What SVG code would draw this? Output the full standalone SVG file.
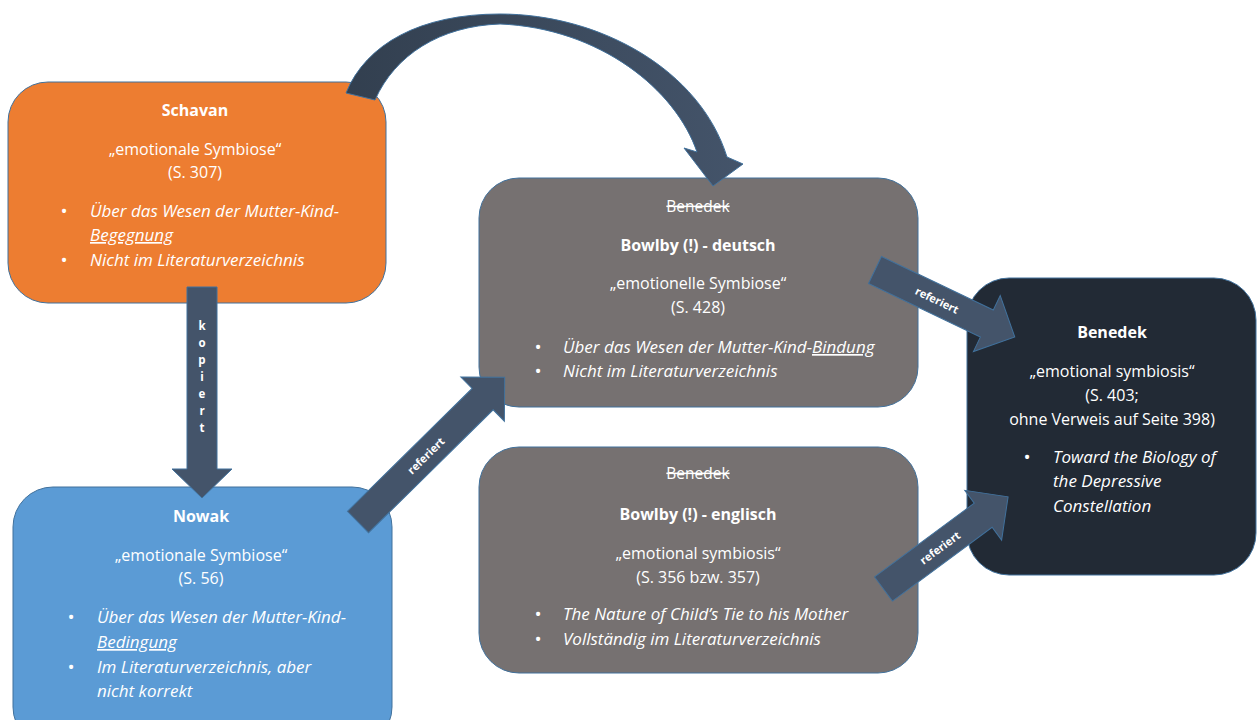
<svg xmlns="http://www.w3.org/2000/svg" width="1257" height="720" viewBox="0 0 1257 720">
<defs>
<linearGradient id="curveGrad" x1="340" y1="0" x2="745" y2="0" gradientUnits="userSpaceOnUse">
<stop offset="0" stop-color="#323F4F"/>
<stop offset="1" stop-color="#44546A"/>
</linearGradient>
</defs>
<style>
.box{stroke:#41719C;stroke-width:1}
.orange{fill:#ED7D31}
.blue{fill:#5B9BD5}
.grey{fill:#767171}
.dark{fill:#222A35}
.arrow{fill:#44546A;stroke:#41719C;stroke-width:1}
text{font-family:"Open Sans","Noto Sans","Liberation Sans",sans-serif;fill:#FFFFFF;font-size:16px}
.c{text-anchor:middle}
.b{font-weight:bold}
.i{font-style:italic;font-size:17px}
.u{text-decoration:underline}
.s{text-decoration:line-through;font-size:15.5px}
.bl{font-size:19px;text-anchor:middle}
.lbl{font-size:11px;font-weight:bold;text-anchor:middle;dominant-baseline:central}
.kl{font-size:11.5px;font-weight:bold;text-anchor:middle}
</style>
<rect width="1257" height="720" fill="#FFFFFF"/>

<g id="schavan">
<rect class="box orange" x="8" y="82" width="378" height="221" rx="40" ry="40"/>
<text class="c b" x="195" y="116">Schavan</text>
<text class="c" x="195" y="155">„emotionale Symbiose“</text>
<text class="c" x="195" y="178">(S. 307)</text>
<text class="bl" x="64" y="218">•</text>
<text class="i" x="90" y="217">Über das Wesen der Mutter-Kind-</text>
<text class="i u" x="90" y="241">Begegnung</text>
<text class="bl" x="64" y="267">•</text>
<text class="i" x="90" y="266">Nicht im Literaturverzeichnis</text>
</g>

<g id="nowak">
<rect class="box blue" x="13" y="487" width="379" height="260" rx="40" ry="40"/>
<text class="c b" x="201" y="522">Nowak</text>
<text class="c" x="201" y="561">„emotionale Symbiose“</text>
<text class="c" x="201" y="584">(S. 56)</text>
<text class="bl" x="71" y="624">•</text>
<text class="i" x="97" y="623">Über das Wesen der Mutter-Kind-</text>
<text class="i u" x="97" y="648">Bedingung</text>
<text class="bl" x="71" y="674">•</text>
<text class="i" x="97" y="673">Im Literaturverzeichnis, aber</text>
<text class="i" x="97" y="697">nicht korrekt</text>
</g>

<g id="bowlby-deutsch">
<rect class="box grey" x="479" y="178" width="439" height="229" rx="40" ry="40"/>
<text class="c s" x="698" y="212">Benedek</text>
<text class="c b" x="698" y="251">Bowlby (!) - deutsch</text>
<text class="c" x="698" y="289">„emotionelle Symbiose“</text>
<text class="c" x="698" y="313">(S. 428)</text>
<text class="bl" x="538" y="354">•</text>
<text class="i" x="563" y="353">Über das Wesen der Mutter-Kind-<tspan class="u">Bindung</tspan></text>
<text class="bl" x="538" y="378">•</text>
<text class="i" x="563" y="377">Nicht im Literaturverzeichnis</text>
</g>

<g id="bowlby-englisch">
<rect class="box grey" x="479" y="447" width="439" height="226" rx="40" ry="40"/>
<text class="c s" x="698" y="479">Benedek</text>
<text class="c b" x="698" y="520">Bowlby (!) - englisch</text>
<text class="c" x="698" y="559">„emotional symbiosis“</text>
<text class="c" x="698" y="583">(S. 356 bzw. 357)</text>
<text class="bl" x="538" y="621">•</text>
<text class="i" x="563" y="620">The Nature of Child’s Tie to his Mother</text>
<text class="bl" x="538" y="646">•</text>
<text class="i" x="563" y="645">Vollständig im Literaturverzeichnis</text>
</g>

<g id="benedek">
<rect class="box dark" x="967" y="278" width="289" height="297" rx="42" ry="42"/>
<text class="c b" x="1112" y="338">Benedek</text>
<text class="c" x="1112" y="377">„emotional symbiosis“</text>
<text class="c" x="1112" y="401">(S. 403;</text>
<text class="c" x="1112" y="425">ohne Verweis auf Seite 398)</text>
<text class="bl" x="1027" y="464">•</text>
<text class="i" x="1053" y="463">Toward the Biology of</text>
<text class="i" x="1053" y="487">the Depressive</text>
<text class="i" x="1053" y="512">Constellation</text>
</g>

<g id="connectors">
<path d="M346,93 C366,44 420,14 500,14 C600,14 700,70 727,157 L743,164 L713,186 L684,148 L697,152 C676,90 600,28 500,24 C440,26 395,55 375,100 Z" fill="url(#curveGrad)" stroke="#41719C" stroke-width="1"/>
<g transform="translate(202,287)">
<polygon class="arrow" points="-15,0 15,0 15,182 30,182 0,211 -30,182 -15,182"/>
</g>
<text class="kl" x="202" y="330">k</text>
<text class="kl" x="202" y="347">o</text>
<text class="kl" x="202" y="364">p</text>
<text class="kl" x="202" y="381">i</text>
<text class="kl" x="202" y="398">e</text>
<text class="kl" x="202" y="415">r</text>
<text class="kl" x="202" y="432">t</text>
<g transform="translate(358,522) rotate(-44.6)">
<polygon class="arrow" points="0,-15 175,-15 175,-31 206,0 175,31 175,15 0,15"/>
<text class="lbl" x="95" y="0">referiert</text>
</g>
<g transform="translate(875,270) rotate(25.6)">
<polygon class="arrow" points="0,-15 124,-15 124,-31 155,0 124,31 124,15 0,15"/>
<text class="lbl" x="69" y="0">referiert</text>
</g>
<g transform="translate(883.5,589) rotate(-36.5)">
<polygon class="arrow" points="0,-15 124,-15 124,-31 155,0 124,31 124,15 0,15"/>
<text class="lbl" x="70" y="0">referiert</text>
</g>
</g>
</svg>
